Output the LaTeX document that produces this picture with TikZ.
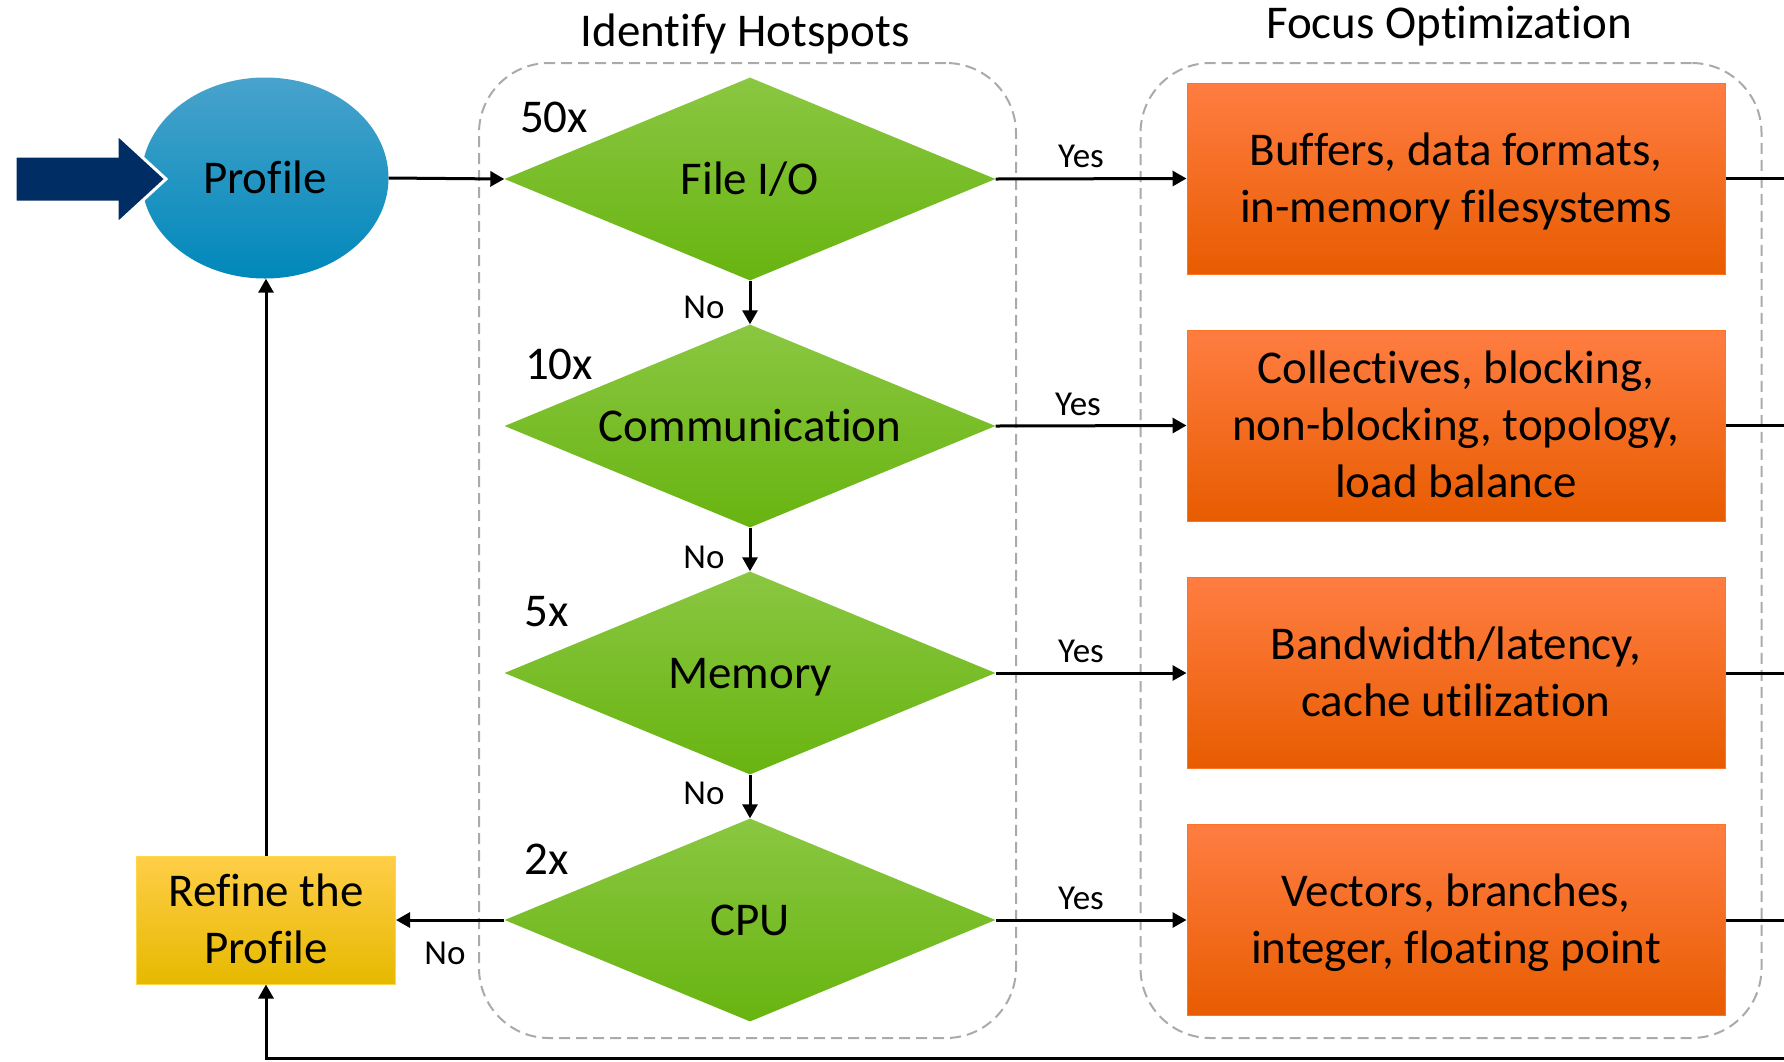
\documentclass[tikz,border=0pt]{standalone}
\usepackage{fontspec}
\setmainfont{Carlito}[RawFeature={-liga;-clig;-calt;-dlig}]
\usetikzlibrary{shapes.geometric,arrows.meta}
\definecolor{navyarrow}{RGB}{0,45,100}
\definecolor{blueT}{RGB}{72,163,204}
\definecolor{blueM}{RGB}{6,152,202}
\definecolor{blueB}{RGB}{0,136,186}
\definecolor{greenT}{RGB}{138,199,66}
\definecolor{greenM}{RGB}{118,193,26}
\definecolor{greenB}{RGB}{104,180,16}
\definecolor{orangeT}{RGB}{255,125,66}
\definecolor{orangeM}{RGB}{255,102,0}
\definecolor{orangeB}{RGB}{232,92,0}
\definecolor{orangeE}{RGB}{255,115,35}
\definecolor{yellowT}{RGB}{255,206,72}
\definecolor{yellowM}{RGB}{255,204,0}
\definecolor{yellowB}{RGB}{230,185,0}
\definecolor{yellowE}{RGB}{255,214,70}
\definecolor{dashgray}{RGB}{170,170,170}
\newcommand\txtline[1]{\rule[-8pt]{0pt}{46pt}\smash{#1}}
\newcommand\nlg{\kern0pt}
\begin{document}
\begin{tikzpicture}[x=1pt,y=-1pt,
  bigtext/.style={font=\fontsize{47}{57}\selectfont},
  smalltext/.style={font=\fontsize{35}{42}\selectfont},
  conn/.style={line width=3pt,-{Triangle[length=14pt,width=15pt]}},
  plainline/.style={line width=3pt},
  container/.style={draw=dashgray,line width=2pt,dash pattern=on 11pt off 6pt,rounded corners=70pt,inner sep=0pt},
  hotspot/.style={diamond,aspect=2.4,minimum width=491pt,minimum height=203pt,inner sep=0pt,
    top color=greenT,middle color=greenM,bottom color=greenB,bigtext},
  optbox/.style={rectangle,minimum width=538pt,minimum height=191pt,inner sep=0pt,align=center,
    draw=orangeE,line width=1pt,top color=orangeT,middle color=orangeM,bottom color=orangeB,bigtext},
  refinebox/.style={rectangle,minimum width=259pt,minimum height=128pt,inner sep=0pt,align=center,
    draw=yellowE,line width=1pt,top color=yellowT,middle color=yellowM,bottom color=yellowB,bigtext},
  profilenode/.style={ellipse,minimum width=247pt,minimum height=201pt,inner sep=0pt,
    top color=blueT,middle color=blueM,bottom color=blueB,bigtext}
]
\useasboundingbox (0,0) rectangle (1784,1061);

% containers
\node[container,minimum width=537pt,minimum height=975pt] (hotbox) at (747.5,550.5) {};
\node[container,minimum width=621pt,minimum height=975pt] (optcont) at (1451,550.5) {};
\node[bigtext,anchor=base] (hottitle) at (745,46) {Ident\nlg ify Hotspots};
\node[bigtext,anchor=base] (opttitle) at (1449,38) {Focus Opt\nlg imizat\nlg ion};

% profile
\node[profilenode] (profile) at (265,178) {\txtline{Prof\nlg ile}};
\path[fill=navyarrow,draw=white,line width=3pt,line join=miter]
  (15,156) -- (117,156) -- (117,134) -- (166,179) -- (117,224) -- (117,202) -- (15,202) -- cycle;

% diamonds
\node[hotspot] (fileio) at (750,179) {\txtline{File I/O}};
\node[hotspot] (comm) at (750,426) {\txtline{Communicat\nlg ion}};
\node[hotspot] (mem) at (750,673) {\txtline{Memory}};
\node[hotspot] (cpu) at (750,920) {\txtline{CPU}};

\node[bigtext] (f50) at (554,117) {50x};
\node[bigtext] (f10) at (559,364) {10x};
\node[bigtext] (f5) at (547,612) {5x};
\node[bigtext] (f2) at (547,859) {2x};

% optimization boxes
\node[optbox] (buf) at (1456,178.5) {\txtline{Buf\nlg fers, data formats,}\\\txtline{in-memory f\nlg ilesystems}};
\node[optbox] (coll) at (1456,425.5) {\txtline{Collect\nlg ives, blocking,}\\\txtline{non-blocking, topology,}\\\txtline{load balance}};
\node[optbox] (band) at (1456,673) {\txtline{Bandwidth/latency,}\\\txtline{cache ut\nlg ilizat\nlg ion}};
\node[optbox] (vec) at (1456,920) {\txtline{Vectors, branches,}\\\txtline{integer, f\nlg loat\nlg ing point}};

% refine
\node[refinebox] (refine) at (266,920) {\txtline{Ref\nlg ine the}\\\txtline{Prof\nlg ile}};

% connectors
\draw[conn] (profile.east) -- (fileio.west);
\draw[conn] (fileio.south) -- (comm.north);
\draw[conn] (comm.south) -- (mem.north);
\draw[conn] (mem.south) -- (cpu.north);
\node[smalltext] (no1) at (704,307) {No};
\node[smalltext] (no2) at (704,557) {No};
\node[smalltext] (no3) at (704,793) {No};

\draw[conn] (fileio.east) -- (buf.west);
\draw[conn] (comm.east) -- (coll.west);
\draw[conn] (mem.east) -- (band.west);
\draw[conn] (cpu.east) -- (vec.west);
\node[smalltext] (yes1) at (1081,156) {Yes};
\node[smalltext] (yes2) at (1078,404) {Yes};
\node[smalltext] (yes3) at (1081,651) {Yes};
\node[smalltext] (yes4) at (1081,898) {Yes};

\draw[conn] (cpu.west) -- (refine.east);
\node[smalltext] (no4) at (445,953) {No};

\draw[conn] (refine.north) -- (refine.north |- profile.south);

\coordinate (e1) at (1784,178.5);
\coordinate (e2) at (1784,425.5);
\coordinate (e3) at (1784,673);
\coordinate (e4) at (1784,920);
\coordinate (ebot) at (1784,1058);
\draw[plainline] (buf.east) -- (e1);
\draw[plainline] (coll.east) -- (e2);
\draw[plainline] (band.east) -- (e3);
\draw[plainline] (vec.east) -- (e4);
\draw[conn] (ebot) -| (refine.south);
\end{tikzpicture}
\end{document}
